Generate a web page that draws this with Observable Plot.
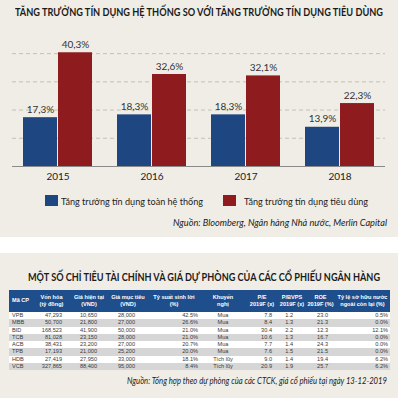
<!DOCTYPE html>
<html lang="vi"><head><meta charset="utf-8">
<script src="https://cdn.jsdelivr.net/npm/d3@7"></script>
<script src="https://cdn.jsdelivr.net/npm/@observablehq/plot@0.6"></script>
<style>
html,body{margin:0;padding:0;background:#fff;}
body{width:398px;height:405px;position:relative;overflow:hidden;font-family:Lato,"Noto Sans",sans-serif;color:#222;}
.panel{position:absolute;left:0;width:398px;background:#efede5;}
#p1{top:0;height:237px;}
#p2{top:253px;height:145px;}
.fit{position:absolute;white-space:nowrap;line-height:1;}
.ttl{font-weight:700;font-size:10.5px;color:#1b1b1b;}
.src{font-style:italic;font-size:9.5px;color:#222;}
.lgt{font-size:10px;color:#222;}
#chart{position:absolute;left:0;top:24px;}
.sw{position:absolute;width:13px;height:11px;}
table{position:absolute;left:9px;top:37px;width:381px;table-layout:fixed;border-collapse:collapse;font-family:"Liberation Sans",Arial,sans-serif;font-size:5.6px;color:#3a3a3a;}
th{background:#1f4e8c;color:#fff;font-weight:bold;height:22px;padding:0;line-height:7.2px;vertical-align:middle;text-align:center;}
td{height:7.3px;padding:0;line-height:7.3px;white-space:nowrap;overflow:hidden;}
tbody tr{background:#fff;}
tbody tr.g{background:#d6d6d6;}
</style></head>
<body>
<div id="p1" class="panel">
  <div id="t1" class="fit ttl">TĂNG TRƯỞNG TÍN DỤNG HỆ THỐNG SO VỚI TĂNG TRƯỞNG TÍN DỤNG TIÊU DÙNG</div>
  <div id="chart"></div>
  <div id="sw0" class="sw"></div><div id="lg0" class="fit lgt"></div>
  <div id="sw1" class="sw"></div><div id="lg1" class="fit lgt"></div>
  <div id="s1" class="fit src">Nguồn: Bloomberg, Ngân hàng Nhà nước, Merlin Capital</div>
</div>
<div id="p2" class="panel">
  <div id="t2" class="fit ttl">MỘT SỐ CHỈ TIÊU TÀI CHÍNH VÀ GIÁ DỰ PHÒNG CỦA CÁC CỔ PHIẾU NGÂN HÀNG</div>
  <table id="tbl"></table>
  <div id="s2" class="fit src">Nguồn: Tổng hợp theo dự phòng của các CTCK, giá cổ phiếu tại ngày 13-12-2019</div>
</div>
<script>
// ---- chart data ----
const years = ["2015", "2016", "2017", "2018"];
const seriesNames = ["Tăng trưởng tín dụng toàn hệ thống", "Tăng trưởng tín dụng tiêu dùng"];
const systemGrowth = [17.3, 18.3, 18.3, 13.9];
const consumerGrowth = [40.3, 32.6, 32.1, 22.3];
const seriesColors = ["#1e4680", "#8e1b1e"];
const gridValues = [10, 20, 30, 40];

// ---- table data ----
const tableHeaders = ["Mã CP", "Vốn hóa\n(tỷ đồng)", "Giá hiện tại\n(VND)", "Giá mục tiêu\n(VND)", "Tỷ suất sinh lời\n(%)", "Khuyến\nnghị", "P/E\n2019F (x)", "P/BVPS\n2019F (x)", "ROE\n2019F (%)", "Tỷ lệ sở hữu nước\nngoài còn lại (%)"];
const tickers = ["VPB", "MBB", "BID", "TCB", "ACB", "TPB", "HDB", "VCB"];
const marketCap = ["47,293", "50,700", "168,523", "81,028", "38,431", "17,193", "27,419", "327,865"];
const currentPrice = ["10,650", "21,800", "41,900", "23,150", "23,200", "21,000", "27,950", "88,400"];
const targetPrice = ["28,000", "27,000", "50,000", "28,000", "27,000", "25,200", "33,000", "95,000"];
const upside = ["42.5%", "26.6%", "21.0%", "21.0%", "20.7%", "20.0%", "18.1%", "8.4%"];
const recommendation = ["Mua", "Mua", "Mua", "Mua", "Mua", "Mua", "Tích lũy", "Tích lũy"];
const pe2019 = ["7.8", "8.4", "30.4", "10.6", "7.7", "7.6", "9.0", "20.9"];
const pbvps2019 = ["1.2", "1.3", "2.2", "1.3", "1.4", "1.5", "1.4", "1.9"];
const roe2019 = ["23.0", "21.3", "12.3", "16.7", "24.3", "21.5", "19.4", "25.7"];
const foreignRoom = ["0.5%", "0.0%", "12.1%", "0.0%", "0.0%", "0.0%", "6.2%", "6.2%"];

// ---- build chart ----
const fmt = v => v.toFixed(1).replace(".", ",") + "%";
const sys = years.map((y, i) => ({year: y, value: systemGrowth[i]}));
const con = years.map((y, i) => ({year: y, value: consumerGrowth[i]}));

const W = 398, H = 162, mL = 12, mR = 13, pIn = 0.263, pOut = 0.095;
const step = (W - mL - mR) / (years.length - pIn + 2 * pOut);
const half = step * (1 - pIn) / 2;

const chart = Plot.plot({
  width: W, height: H,
  marginLeft: mL, marginRight: mR, marginTop: 15, marginBottom: 20,
  style: {background: "transparent", fontFamily: "Lato, 'Noto Sans', sans-serif", fontSize: "10px", color: "#222", overflow: "visible"},
  x: {domain: years, paddingInner: pIn, paddingOuter: pOut, label: null, tickSize: 0, tickPadding: 6},
  y: {domain: [0, 45], axis: null},
  marks: [
    Plot.ruleY(gridValues, {stroke: "#c4c1b7", strokeDasharray: "4,3", strokeWidth: 1}),
    Plot.barY(sys, {x: "year", y: "value", fill: seriesColors[0], insetRight: half}),
    Plot.barY(con, {x: "year", y: "value", fill: seriesColors[1], insetLeft: half}),
    Plot.ruleY([0], {stroke: "#8a8a8a", strokeWidth: 1}),
    Plot.text(sys, {x: "year", y: "value", text: d => fmt(d.value), dx: -half / 2, dy: -8, fill: "#333", fontSize: 10}),
    Plot.text(con, {x: "year", y: "value", text: d => fmt(d.value), dx: half / 2, dy: -8, fill: "#333", fontSize: 10})
  ]
});
document.getElementById("chart").appendChild(chart);

// ---- legend ----
[0, 1].forEach(i => {
  const sw = document.getElementById("sw" + i);
  sw.style.background = seriesColors[i];
  document.getElementById("lg" + i).textContent = seriesNames[i];
});
const sw0 = document.getElementById("sw0"); sw0.style.left = "45px"; sw0.style.top = "195px";
const sw1 = document.getElementById("sw1"); sw1.style.left = "223px"; sw1.style.top = "195px";

// ---- table ----
const columns = [tickers, marketCap, currentPrice, targetPrice, upside, recommendation, pe2019, pbvps2019, roe2019, foreignRoom];
const colWidths = [24, 37, 38, 40, 52, 46, 32, 28, 29, 55];
const colAlign = ["left", "right", "right", "right", "right", "center", "right", "right", "right", "right"];
const colPad = ["0 0 0 3px", "0 8px 0 0", "0 11px 0 0", "0 13px 0 0", "0 2px 0 0", "0", "0 6px 0 0", "0 13px 0 0", "0 7px 0 0", "0 2px 0 0"];
const tbl = document.getElementById("tbl");
let html = "<colgroup>" + colWidths.map(w => `<col style="width:${w}px">`).join("") + "</colgroup>";
html += "<thead><tr>" + tableHeaders.map((h, j) => `<th style="${j === 0 ? "text-align:left;padding-left:3px" : ""}">${h.replace("\n", "<br>")}</th>`).join("") + "</tr></thead><tbody>";
tickers.forEach((t, i) => {
  html += `<tr class="${i % 2 ? "g" : ""}">` + columns.map((c, j) => `<td style="text-align:${colAlign[j]};padding:${colPad[j]}">${c[i]}</td>`).join("") + "</tr>";
});
html += "</tbody>";
tbl.innerHTML = html;

// ---- fit single-line texts ----
function place(id, x0, yc, w) {
  const el = document.getElementById(id);
  const r = el.getBoundingClientRect();
  el.style.left = x0 + "px";
  el.style.top = (yc - r.height / 2) + "px";
  el.style.transformOrigin = "0 50%";
  el.style.transform = `scaleX(${w / r.width})`;
}
place("t1", 15, 12, 368);
place("lg0", 61, 200.5, 142);
place("lg1", 244, 200.5, 124);
place("s1", 173, 223, 214);
place("t2", 28, 24, 352);
place("s2", 127, 128, 260);
</script>
</body></html>
